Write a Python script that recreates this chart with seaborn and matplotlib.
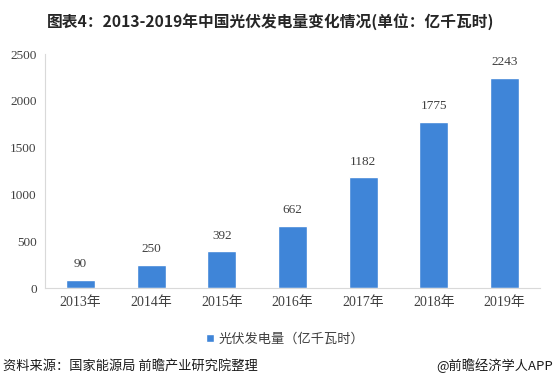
import matplotlib
matplotlib.use("Agg")
import matplotlib.pyplot as plt
import seaborn as sns
import pandas as pd

years = ["2013年", "2014年", "2015年", "2016年", "2017年", "2018年", "2019年"]
values = [90, 250, 392, 662, 1182, 1775, 2243]
series_name = "光伏发电量（亿千瓦时）"
yticks = [0, 500, 1000, 1500, 2000, 2500]

sns.set_theme(style="white")
plt.rcParams['font.family'] = ['Liberation Serif', 'Noto Sans CJK SC', 'DejaVu Sans']

df = pd.DataFrame({"year": years, "value": values, "series": series_name})

fig = plt.figure(figsize=(5.56, 3.83), dpi=100)
ax = fig.add_axes([0.081, 0.248, 0.890, 0.611])
sns.barplot(data=df, x="year", y="value", hue="series", palette=["#3f85d8"],
            saturation=1, width=0.41, ax=ax, legend=True)

ax.set_ylim(0, 2500)
ax.set_yticks(yticks)
ax.set_yticklabels([str(t) for t in yticks], fontsize=9.5, color="#404040")
ax.set_xticks(range(len(years)))
ax.set_xticklabels(years, fontsize=10, color="#404040",
                   family=['Liberation Serif', 'Noto Sans CJK SC'])
ax.set_xlim(-0.5, len(years) - 0.5)
ax.set_xlabel("")
ax.set_ylabel("")
ax.tick_params(axis="both", length=0, pad=6)
for s in ["top", "right"]:
    ax.spines[s].set_visible(False)
ax.spines["left"].set_color("#d9d9d9")
ax.spines["bottom"].set_color("#d9d9d9")
ax.spines["left"].set_linewidth(0.8)
ax.spines["bottom"].set_linewidth(0.8)

for c in ax.containers:
    ax.bar_label(c, labels=[str(v) for v in values], padding=7, fontsize=9.5, color="#404040")

leg = ax.legend(loc="upper center", bbox_to_anchor=(0.485, -0.14), frameon=False,
                handlelength=0.6, handleheight=0.6, handletextpad=0.3,
                prop={"family": ["Noto Sans CJK SC"], "size": 9.5})
for t in leg.get_texts():
    t.set_color("#404040")

fig.text(0.487, 0.943, "图表4：2013-2019年中国光伏发电量变化情况(单位：亿千瓦时)",
         ha="center", va="center", fontsize=11.3, fontweight="bold",
         family=["Noto Sans CJK SC"], color="#262626")
fig.text(0.005, 0.045, "资料来源：国家能源局 前瞻产业研究院整理", ha="left", va="center",
         fontsize=9.5, family=["Noto Sans CJK SC"], color="#1a1a1a")
fig.text(0.995, 0.045, "@前瞻经济学人APP", ha="right", va="center",
         fontsize=9.5, family=["Noto Sans CJK SC"], color="#1a1a1a")

fig.savefig("out.png", dpi=100)
